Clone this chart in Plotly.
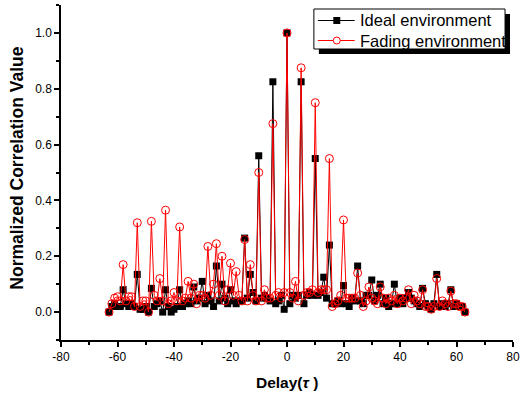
import plotly.graph_objects as go

delay = list(range(-63, 64))

ideal = [
    0.00, 0.02, 0.03, 0.02, 0.02, 0.08, 0.03, 0.02, 0.03, 0.02,   # -63..-54
    0.135, 0.01, 0.01, 0.02, 0.00, 0.085, 0.02, 0.03, 0.04, 0.00,  # -53..-44
    0.08, 0.02, 0.00, 0.01, 0.02, 0.08, 0.02, 0.03, 0.04, 0.03,    # -43..-34
    0.09, 0.04, 0.05, 0.11, 0.03, 0.06, 0.04, 0.02, 0.165, 0.04,   # -33..-24
    0.10, 0.05, 0.03, 0.08, 0.04, 0.03, 0.04, 0.04, 0.265, 0.05,   # -23..-14
    0.135, 0.07, 0.04, 0.56, 0.05, 0.06, 0.05, 0.04, 0.825, 0.03,  # -13..-4
    0.04, 0.06, 0.01, 1.00, 0.03, 0.06, 0.05, 0.06, 0.825, 0.03,   # -3..6
    0.06, 0.07, 0.06, 0.55, 0.06, 0.07, 0.125, 0.05, 0.24, 0.03,   # 7..16
    0.03, 0.04, 0.03, 0.095, 0.03, 0.02, 0.05, 0.04, 0.165, 0.04,  # 17..26
    0.03, 0.06, 0.06, 0.115, 0.04, 0.06, 0.10, 0.03, 0.05, 0.02,   # 27..36
    0.03, 0.10, 0.03, 0.05, 0.03, 0.05, 0.07, 0.05, 0.04, 0.03,    # 37..46
    0.02, 0.085, 0.03, 0.02, 0.01, 0.03, 0.135, 0.02, 0.03, 0.02,  # 47..56
    0.03, 0.08, 0.02, 0.03, 0.02, 0.02, 0.00                       # 57..63
]

fading = [
    0.00, 0.03, 0.05, 0.055, 0.04, 0.17, 0.04, 0.055, 0.055, 0.02,  # -63..-54
    0.32, 0.02, 0.04, 0.04, 0.00, 0.325, 0.06, 0.04, 0.12, 0.04,    # -53..-44
    0.365, 0.03, 0.04, 0.07, 0.04, 0.305, 0.04, 0.05, 0.11, 0.05,   # -43..-34
    0.10, 0.03, 0.06, 0.06, 0.05, 0.235, 0.06, 0.10, 0.245, 0.06,   # -33..-24
    0.20, 0.04, 0.08, 0.175, 0.06, 0.145, 0.06, 0.04, 0.26, 0.04,   # -23..-14
    0.17, 0.06, 0.04, 0.50, 0.04, 0.08, 0.05, 0.05, 0.675, 0.06,    # -13..-4
    0.07, 0.05, 0.07, 1.00, 0.07, 0.05, 0.11, 0.04, 0.875, 0.06,    # -3..6
    0.07, 0.07, 0.08, 0.75, 0.07, 0.08, 0.08, 0.08, 0.55, 0.02,     # 7..16
    0.03, 0.04, 0.06, 0.33, 0.05, 0.05, 0.05, 0.05, 0.14, 0.06,     # 17..26
    0.02, 0.04, 0.09, 0.05, 0.04, 0.03, 0.09, 0.05, 0.03, 0.05,     # 27..36
    0.04, 0.06, 0.03, 0.05, 0.04, 0.05, 0.08, 0.03, 0.06, 0.04,     # 37..46
    0.03, 0.08, 0.02, 0.02, 0.01, 0.02, 0.12, 0.02, 0.04, 0.03,     # 47..56
    0.02, 0.075, 0.03, 0.03, 0.02, 0.02, 0.00                       # 57..63
]

series_names = ["Ideal environment", "Fading environment"]
x_ticks = [-80, -60, -40, -20, 0, 20, 40, 60, 80]
y_ticks = [0.0, 0.2, 0.4, 0.6, 0.8, 1.0]

W, H = 525, 396
ML, MR, MT, MB = 61, 10, 5, 56
PW, PH = W - ML - MR, H - MT - MB


def px_x(px):
    return (px - ML) / PW


def px_y(py):
    return (H - MB - py) / PH


font_family = "Liberation Sans, Arial, sans-serif"

fig = go.Figure()
fig.add_trace(go.Scatter(
    x=delay, y=ideal, mode="lines+markers", name=series_names[0],
    line=dict(color="black", width=1),
    marker=dict(symbol="square", size=7, color="black"),
))
fig.add_trace(go.Scatter(
    x=delay, y=fading, mode="lines+markers", name=series_names[1],
    line=dict(color="red", width=1),
    marker=dict(symbol="circle-open", size=8, color="red", line=dict(width=1)),
))

# manual legend (box with drop shadow)
shapes = [
    dict(type="rect", xref="paper", yref="paper",
         x0=px_x(320), x1=px_x(512), y0=px_y(54), y1=px_y(14),
         fillcolor="black", line=dict(width=0), layer="above"),
    dict(type="rect", xref="paper", yref="paper",
         x0=px_x(315), x1=px_x(507), y0=px_y(49), y1=px_y(9),
         fillcolor="white", line=dict(color="black", width=1), layer="above"),
]
annotations = []
rows = [(20.5, "black"), (40.5, "red")]
for i, (ry, col) in enumerate(rows):
    shapes.append(dict(type="line", xref="paper", yref="paper",
                       x0=px_x(319), x1=px_x(356), y0=px_y(ry), y1=px_y(ry),
                       line=dict(color=col, width=1), layer="above"))
    if i == 0:
        shapes.append(dict(type="rect", xref="paper", yref="paper",
                           x0=px_x(334.5), x1=px_x(341.5), y0=px_y(ry + 3.5), y1=px_y(ry - 3.5),
                           fillcolor="black", line=dict(width=0), layer="above"))
    else:
        shapes.append(dict(type="circle", xref="paper", yref="paper",
                           x0=px_x(334.5), x1=px_x(341.5), y0=px_y(ry + 3.5), y1=px_y(ry - 3.5),
                           fillcolor="white", line=dict(color="red", width=1), layer="above"))
    annotations.append(dict(
        xref="paper", yref="paper", x=px_x(359), y=px_y(ry),
        xanchor="left", yanchor="middle", showarrow=False,
        text=series_names[i], font=dict(size=16.5, family=font_family, color="black"),
    ))

# axis titles
annotations.append(dict(
    xref="paper", yref="paper", x=px_x(16.5), y=px_y(168),
    xanchor="center", yanchor="middle", showarrow=False, textangle=-90,
    text="<b>Normalized Correlation Value</b>",
    font=dict(size=17.5, family=font_family, color="black"),
))
annotations.append(dict(
    xref="paper", yref="paper", x=px_x(288), y=px_y(382),
    xanchor="center", yanchor="middle", showarrow=False,
    text="<b>Delay(<i>τ</i> )</b>",
    font=dict(size=15.5, family=font_family, color="black"),
))

fig.update_layout(
    width=W, height=H,
    margin=dict(l=ML, r=MR, t=MT, b=MB),
    paper_bgcolor="white", plot_bgcolor="white",
    font=dict(family=font_family, size=12, color="black"),
    showlegend=False,
    shapes=shapes,
    annotations=annotations,
)

fig.update_xaxes(
    range=[-80, 80], tickvals=x_ticks, ticktext=[str(v) for v in x_ticks],
    showline=True, linecolor="black", linewidth=1.5, mirror=False,
    showgrid=False, zeroline=False,
    ticks="outside", ticklen=5, tickwidth=1.5, tickcolor="black",
    minor=dict(ticks="outside", ticklen=3, tickwidth=1.5, dtick=10, tick0=0, tickcolor="black", showgrid=False),
    tickfont=dict(size=12),
)
fig.update_yaxes(
    range=[-0.1, 1.1], tickvals=y_ticks, ticktext=[f"{v:.1f}" for v in y_ticks],
    showline=True, linecolor="black", linewidth=1.5, mirror=False,
    showgrid=False, zeroline=False,
    ticks="outside", ticklen=5, tickwidth=1.5, tickcolor="black",
    minor=dict(ticks="outside", ticklen=3, tickwidth=1.5, dtick=0.1, tick0=0, tickcolor="black", showgrid=False),
    tickfont=dict(size=12),
)

fig.write_html("out.html")
